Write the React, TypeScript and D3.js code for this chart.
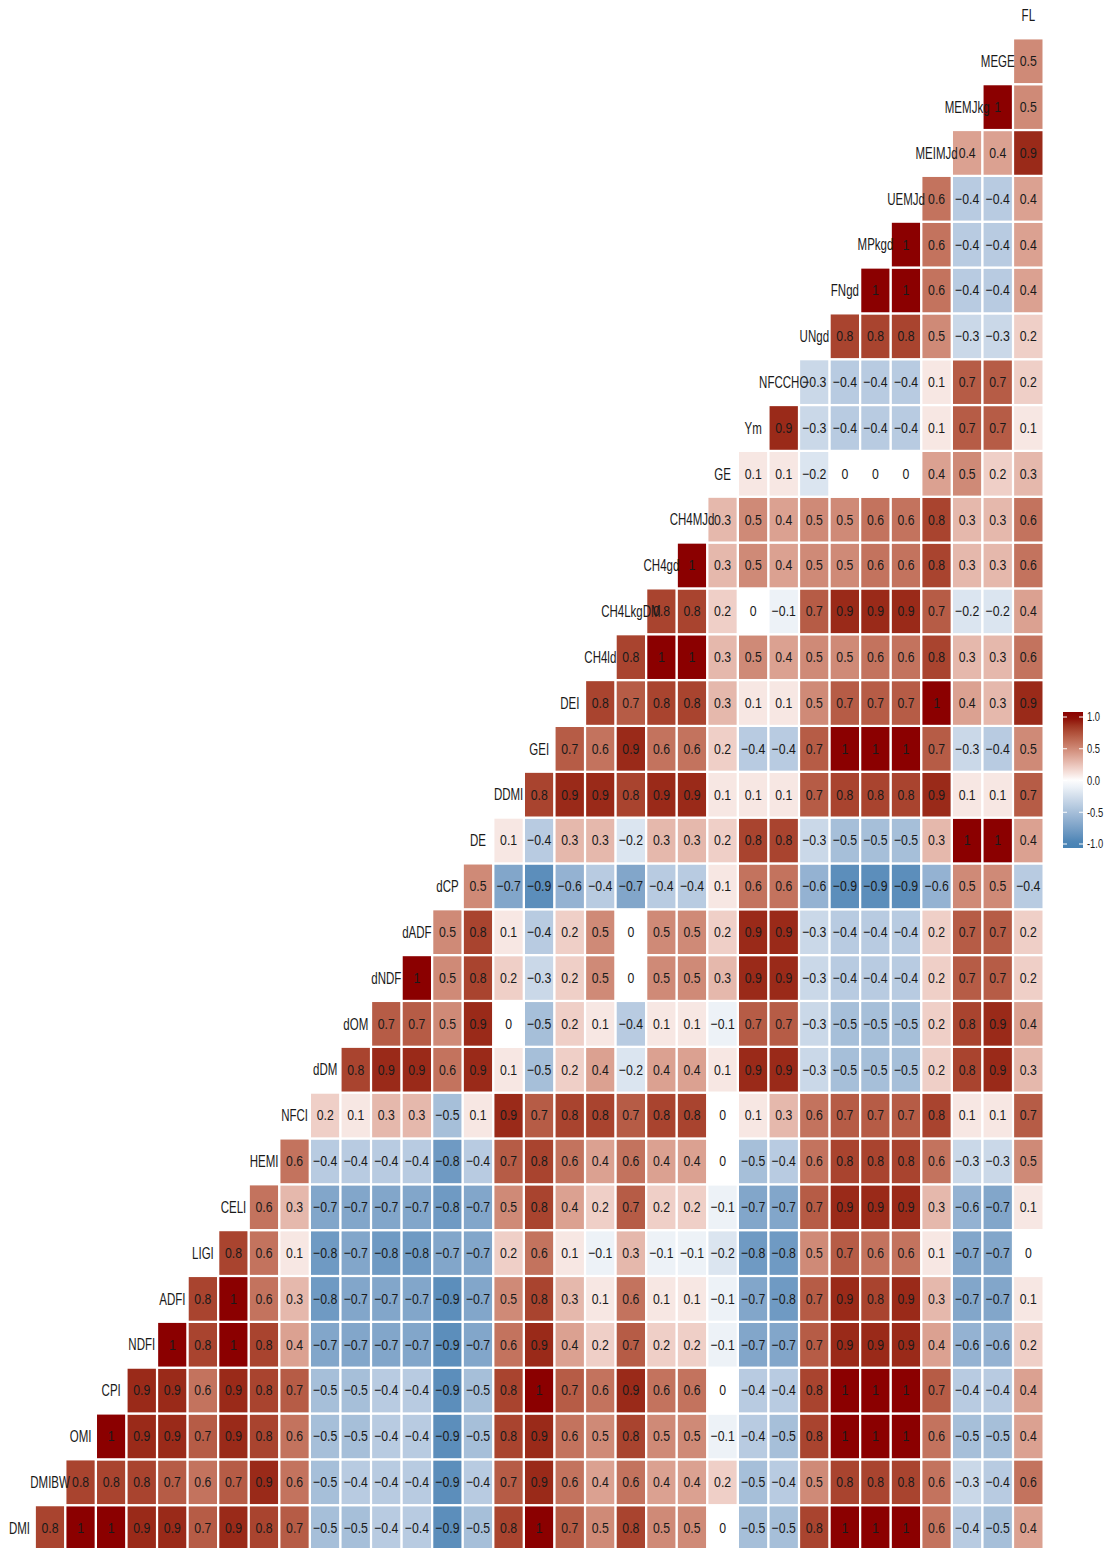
import React from 'react';
import * as d3 from 'd3';

// variable order, bottom-left to top-right along the diagonal
const variables = [
  'DMI', 'DMIBW', 'OMI', 'CPI', 'NDFI', 'ADFI', 'LIGI', 'CELI', 'HEMI', 'NFCI',
  'dDM', 'dOM', 'dNDF', 'dADF', 'dCP', 'DE', 'DDMI', 'GEI', 'DEI', 'CH4ld',
  'CH4LkgDM', 'CH4gd', 'CH4MJd', 'GE', 'Ym', 'NFCCHO', 'UNgd', 'FNgd', 'MPkgd',
  'UEMJd', 'MEIMJd', 'MEMJkg', 'MEGE', 'FL',
];

// each row: correlations of that variable with every variable after it
const rDMI = [0.8, 1, 1, 0.9, 0.9, 0.7, 0.9, 0.8, 0.7, -0.5, -0.5, -0.4, -0.4, -0.9, -0.5, 0.8, 1, 0.7, 0.5, 0.8, 0.5, 0.5, 0, -0.5, -0.5, 0.8, 1, 1, 1, 0.6, -0.4, -0.5, 0.4];
const rDMIBW = [0.8, 0.8, 0.8, 0.7, 0.6, 0.7, 0.9, 0.6, -0.5, -0.4, -0.4, -0.4, -0.9, -0.4, 0.7, 0.9, 0.6, 0.4, 0.6, 0.4, 0.4, 0.2, -0.5, -0.4, 0.5, 0.8, 0.8, 0.8, 0.6, -0.3, -0.4, 0.6];
const rOMI = [1, 0.9, 0.9, 0.7, 0.9, 0.8, 0.6, -0.5, -0.5, -0.4, -0.4, -0.9, -0.5, 0.8, 0.9, 0.6, 0.5, 0.8, 0.5, 0.5, -0.1, -0.4, -0.5, 0.8, 1, 1, 1, 0.6, -0.5, -0.5, 0.4];
const rCPI = [0.9, 0.9, 0.6, 0.9, 0.8, 0.7, -0.5, -0.5, -0.4, -0.4, -0.9, -0.5, 0.8, 1, 0.7, 0.6, 0.9, 0.6, 0.6, 0, -0.4, -0.4, 0.8, 1, 1, 1, 0.7, -0.4, -0.4, 0.4];
const rNDFI = [1, 0.8, 1, 0.8, 0.4, -0.7, -0.7, -0.7, -0.7, -0.9, -0.7, 0.6, 0.9, 0.4, 0.2, 0.7, 0.2, 0.2, -0.1, -0.7, -0.7, 0.7, 0.9, 0.9, 0.9, 0.4, -0.6, -0.6, 0.2];
const rADFI = [0.8, 1, 0.6, 0.3, -0.8, -0.7, -0.7, -0.7, -0.9, -0.7, 0.5, 0.8, 0.3, 0.1, 0.6, 0.1, 0.1, -0.1, -0.7, -0.8, 0.7, 0.9, 0.8, 0.9, 0.3, -0.7, -0.7, 0.1];
const rLIGI = [0.8, 0.6, 0.1, -0.8, -0.7, -0.8, -0.8, -0.7, -0.7, 0.2, 0.6, 0.1, -0.1, 0.3, -0.1, -0.1, -0.2, -0.8, -0.8, 0.5, 0.7, 0.6, 0.6, 0.1, -0.7, -0.7, 0];
const rCELI = [0.6, 0.3, -0.7, -0.7, -0.7, -0.7, -0.8, -0.7, 0.5, 0.8, 0.4, 0.2, 0.7, 0.2, 0.2, -0.1, -0.7, -0.7, 0.7, 0.9, 0.9, 0.9, 0.3, -0.6, -0.7, 0.1];
const rHEMI = [0.6, -0.4, -0.4, -0.4, -0.4, -0.8, -0.4, 0.7, 0.8, 0.6, 0.4, 0.6, 0.4, 0.4, 0, -0.5, -0.4, 0.6, 0.8, 0.8, 0.8, 0.6, -0.3, -0.3, 0.5];
const rNFCI = [0.2, 0.1, 0.3, 0.3, -0.5, 0.1, 0.9, 0.7, 0.8, 0.8, 0.7, 0.8, 0.8, 0, 0.1, 0.3, 0.6, 0.7, 0.7, 0.7, 0.8, 0.1, 0.1, 0.7];
const rdDM = [0.8, 0.9, 0.9, 0.6, 0.9, 0.1, -0.5, 0.2, 0.4, -0.2, 0.4, 0.4, 0.1, 0.9, 0.9, -0.3, -0.5, -0.5, -0.5, 0.2, 0.8, 0.9, 0.3];
const rdOM = [0.7, 0.7, 0.5, 0.9, 0, -0.5, 0.2, 0.1, -0.4, 0.1, 0.1, -0.1, 0.7, 0.7, -0.3, -0.5, -0.5, -0.5, 0.2, 0.8, 0.9, 0.4];
const rdNDF = [1, 0.5, 0.8, 0.2, -0.3, 0.2, 0.5, 0, 0.5, 0.5, 0.3, 0.9, 0.9, -0.3, -0.4, -0.4, -0.4, 0.2, 0.7, 0.7, 0.2];
const rdADF = [0.5, 0.8, 0.1, -0.4, 0.2, 0.5, 0, 0.5, 0.5, 0.2, 0.9, 0.9, -0.3, -0.4, -0.4, -0.4, 0.2, 0.7, 0.7, 0.2];
const rdCP = [0.5, -0.7, -0.9, -0.6, -0.4, -0.7, -0.4, -0.4, 0.1, 0.6, 0.6, -0.6, -0.9, -0.9, -0.9, -0.6, 0.5, 0.5, -0.4];
const rDE = [0.1, -0.4, 0.3, 0.3, -0.2, 0.3, 0.3, 0.2, 0.8, 0.8, -0.3, -0.5, -0.5, -0.5, 0.3, 1, 1, 0.4];
const rDDMI = [0.8, 0.9, 0.9, 0.8, 0.9, 0.9, 0.1, 0.1, 0.1, 0.7, 0.8, 0.8, 0.8, 0.9, 0.1, 0.1, 0.7];
const rGEI = [0.7, 0.6, 0.9, 0.6, 0.6, 0.2, -0.4, -0.4, 0.7, 1, 1, 1, 0.7, -0.3, -0.4, 0.5];
const rDEI = [0.8, 0.7, 0.8, 0.8, 0.3, 0.1, 0.1, 0.5, 0.7, 0.7, 0.7, 1, 0.4, 0.3, 0.9];
const rCH4ld = [0.8, 1, 1, 0.3, 0.5, 0.4, 0.5, 0.5, 0.6, 0.6, 0.8, 0.3, 0.3, 0.6];
const rCH4LkgDM = [0.8, 0.8, 0.2, 0, -0.1, 0.7, 0.9, 0.9, 0.9, 0.7, -0.2, -0.2, 0.4];
const rCH4gd = [1, 0.3, 0.5, 0.4, 0.5, 0.5, 0.6, 0.6, 0.8, 0.3, 0.3, 0.6];
const rCH4MJd = [0.3, 0.5, 0.4, 0.5, 0.5, 0.6, 0.6, 0.8, 0.3, 0.3, 0.6];
const rGE = [0.1, 0.1, -0.2, 0, 0, 0, 0.4, 0.5, 0.2, 0.3];
const rYm = [0.9, -0.3, -0.4, -0.4, -0.4, 0.1, 0.7, 0.7, 0.1];
const rNFCCHO = [-0.3, -0.4, -0.4, -0.4, 0.1, 0.7, 0.7, 0.2];
const rUNgd = [0.8, 0.8, 0.8, 0.5, -0.3, -0.3, 0.2];
const rFNgd = [1, 1, 0.6, -0.4, -0.4, 0.4];
const rMPkgd = [1, 0.6, -0.4, -0.4, 0.4];
const rUEMJd = [0.6, -0.4, -0.4, 0.4];
const rMEIMJd = [0.4, 0.4, 0.9];
const rMEMJkg = [1, 0.5];
const rMEGE = [0.5];

const corrRows = [
  rDMI, rDMIBW, rOMI, rCPI, rNDFI, rADFI, rLIGI, rCELI, rHEMI, rNFCI, rdDM, rdOM,
  rdNDF, rdADF, rdCP, rDE, rDDMI, rGEI, rDEI, rCH4ld, rCH4LkgDM, rCH4gd, rCH4MJd,
  rGE, rYm, rNFCCHO, rUNgd, rFNgd, rMPkgd, rUEMJd, rMEIMJd, rMEMJkg, rMEGE,
];

const legendBreaks = [1, 0.5, 0, -0.5, -1];
const legendLabels = ['1.0', '0.5', '0.0', '-0.5', '-1.0'];

const W = 1109;
const H = 1548;
const FONT = "'Liberation Sans', Arial, Helvetica, sans-serif";
const INK = '#1a1a1a';

const color = d3.scaleLinear<string>()
  .domain([-1, 0, 1])
  .range(['steelblue', 'white', 'darkred'])
  .interpolate(d3.interpolateLab);

const fmt = (v: number) => (v === 0 ? '0' : v < 0 ? '\u2212' + Math.abs(v) : String(v));

export default function App() {
  const x = d3.scaleBand<string>().domain(variables).range([4.2, 1043.6]);
  const y = d3.scaleBand<string>().domain([...variables].reverse()).range([-7.5, 1551]);
  const bw = x.bandwidth();
  const bh = y.bandwidth();

  const cells: { row: string; col: string; v: number }[] = [];
  corrRows.forEach((vals, i) => {
    vals.forEach((v, k) => cells.push({ row: variables[i], col: variables[i + 1 + k], v }));
  });

  // legend colourbar
  const lg = d3.scaleLinear().domain([-1, 1]).range([844, 717]);
  const barTop = 712;
  const barBottom = 848;
  const barX = 1063;
  const barW = 20;
  const stops = d3.range(0, 1.0001, 0.05);

  return (
    <svg width={W} height={H} style={{ position: 'absolute', left: 0, top: 0, background: '#fff' }}
      fontFamily={FONT}>
      <defs>
        <linearGradient id="legend-grad" x1="0" y1="0" x2="0" y2="1">
          {stops.map(t => {
            const yy = barTop + t * (barBottom - barTop);
            const v = Math.max(-1, Math.min(1, lg.invert(yy)));
            return <stop key={t} offset={`${t * 100}%`} stopColor={color(v)} />;
          })}
        </linearGradient>
      </defs>

      <g>
        {cells.map(c => (
          <rect key={c.row + '-' + c.col}
            x={x(c.col)} y={y(c.row)} width={bw} height={bh}
            fill={color(c.v)} stroke="#fff" strokeWidth={2.2} />
        ))}
      </g>

      <g fontSize={15} fill={INK}>
        {cells.map(c => (
          <text key={'t' + c.row + '-' + c.col}
            transform={`translate(${(x(c.col) as number) + bw / 2},${(y(c.row) as number) + bh / 2}) scale(0.82,1)`}
            textAnchor="middle" dominantBaseline="central">
            {fmt(c.v)}
          </text>
        ))}
      </g>

      <g fontSize={16} fill={INK}>
        {variables.map(v => (
          <text key={'lab' + v}
            transform={`translate(${(x(v) as number) + bw / 2},${(y(v) as number) + bh / 2}) scale(0.72,1)`}
            textAnchor="middle" dominantBaseline="central">
            {v}
          </text>
        ))}
      </g>

      <g>
        <rect x={barX} y={barTop} width={barW} height={barBottom - barTop} fill="url(#legend-grad)" />
        {legendBreaks.map(b => (
          <g key={'tk' + b}>
            <line x1={barX} x2={barX + 4} y1={lg(b)} y2={lg(b)} stroke="#fff" strokeWidth={1} />
            <line x1={barX + barW - 4} x2={barX + barW} y1={lg(b)} y2={lg(b)} stroke="#fff" strokeWidth={1} />
          </g>
        ))}
        {legendBreaks.map((b, i) => (
          <text key={'ll' + b}
            transform={`translate(${barX + barW + 4},${lg(b)}) scale(0.78,1)`}
            fontSize={12} fill={INK} dominantBaseline="central">
            {legendLabels[i]}
          </text>
        ))}
      </g>
    </svg>
  );
}
